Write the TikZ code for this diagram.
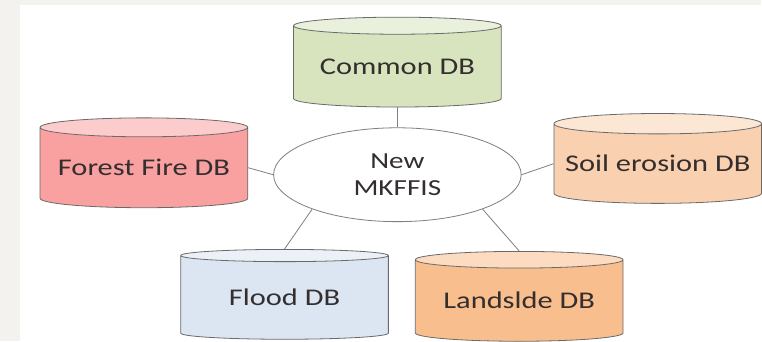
\documentclass[tikz,border=0pt]{standalone}
\usepackage{fontspec}
\setmainfont[FakeStretch=1.27]{Carlito}
\usetikzlibrary{
  shapes.geometric,
  positioning
}
\definecolor{PageGrey}{HTML}{F4F2EE}
\definecolor{EdgeGrey}{HTML}{6A6A6A}
\definecolor{LinkGrey}{HTML}{7F7F7F}
\definecolor{InkDark}{HTML}{342E2E}
\definecolor{CommonGreen}{HTML}{D7E4BD}
\definecolor{FireRed}{HTML}{F9A0A0}
\definecolor{SoilPeach}{HTML}{FAD1B0}
\definecolor{FloodBlue}{HTML}{DCE6F2}
\definecolor{SlideOrange}{HTML}{F9BE8E}
\tikzset{
  % Database cylinder: colour as argument
  dbs/.style={
    cylinder, shape border rotate=90, aspect=0.11,
    draw=EdgeGrey, line width=0.8pt,
    cylinder uses custom fill,
    cylinder body fill=#1, cylinder end fill=#1!55!white,
    minimum width=208pt, minimum height=90pt,
    inner sep=0pt, align=center,
    font=\fontsize{24}{27}\selectfont, text=InkDark
  },
  % Central system ellipse
  hubnode/.style={
    ellipse, draw=LinkGrey, line width=0.8pt, fill=white,
    minimum width=248pt, minimum height=94pt,
    inner sep=0pt, align=center,
    font=\fontsize{23}{27}\selectfont, text=InkDark
  },
  % Plain connector
  link/.style={draw=LinkGrey, line width=0.8pt}
}

\begin{document}
\begin{tikzpicture}
  % page frame
  \fill[PageGrey] (0pt,0pt) rectangle (762pt,342pt);
  \fill[white] (20pt,0pt) rectangle (762pt,337pt);

  \node[hubnode] (hub) at (398pt,167pt) {New\\MKFFIS};
  \node[dbs=CommonGreen, above=20pt of hub]                (common) {Common DB};
  \node[dbs=FireRed,     left=25pt of hub, yshift=7pt]     (fire)   {Forest Fire DB};
  \node[dbs=SoilPeach,   right=32pt of hub, yshift=11pt]   (soil)   {Soil erosion DB};
  \node[dbs=FloodBlue,   below=27pt of hub, xshift=-113pt] (flood)  {Flood DB};
  \node[dbs=SlideOrange, below=29pt of hub, xshift=122pt]  (slide)  {Landslde DB};

  \draw[link] (common.south) -- (hub.north);
  \draw[link] (fire.east)    -- (hub.west);
  \draw[link] (soil.west)    -- (hub.east);
  \draw[link] (hub.202)      -- (flood.north);
  \draw[link] (hub.338)      -- (slide.north);
\end{tikzpicture}
\end{document}
